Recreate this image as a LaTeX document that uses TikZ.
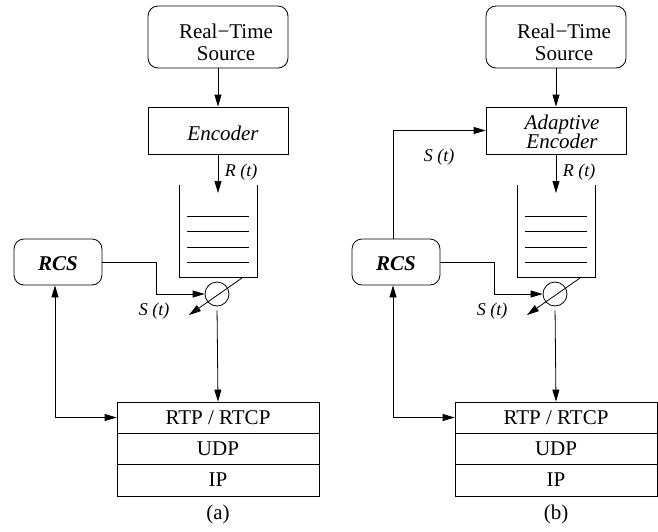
\documentclass[tikz,border=0pt]{standalone}
\usepackage{fontspec}
\setmainfont{Liberation Serif}
\usetikzlibrary{arrows.meta}
\begin{document}
\begin{tikzpicture}[x=1pt,y=-1pt,
  every node/.style={font=\fontsize{21}{22}\selectfont},
  rbox/.style={draw,rounded corners=10pt,line width=0.8pt,inner sep=0pt},
  sbox/.style={draw,line width=0.8pt,inner sep=0pt,minimum width=140,minimum height=47},
  layer/.style={draw,line width=0.8pt,inner sep=0pt,minimum width=202,minimum height=31},
  arr/.style={line width=0.8pt,-{Triangle[length=12pt,width=7pt]}},
  darr/.style={line width=0.8pt,{Triangle[length=12pt,width=7pt]}-{Triangle[length=12pt,width=7pt]}},
  lbl/.style={font=\fontsize{18}{20}\selectfont\itshape,inner sep=0pt},
  ln/.style={line width=0.8pt}]
\useasboundingbox (0,0) rectangle (658,531);

% ---------------- panel (a) ----------------
\node[rbox,minimum width=140,minimum height=62] (srcA) at (218,37) {};
\node[align=center,inner sep=0pt] (srcAt) at (226,42) {Real−Time\\Source};
\node[sbox] (encA) at (218,130.5) {};
\node[inner sep=0pt,font=\fontsize{21}{22}\selectfont\itshape] (encAt) at (223,133) {Encoder};
\node[minimum width=77,minimum height=92,inner sep=0pt] (bufA) at (218.5,231) {};
\draw[ln] (bufA.north west) -- (bufA.south west) -- (bufA.south east) -- (bufA.north east);
\foreach \yy in {216,231,247,262} \draw[line width=0.7pt] (187,\yy) -- (249,\yy);
\coordinate (bufAin) at (218,193);
\node[draw,circle,line width=0.8pt,minimum size=24,inner sep=0pt] (cirA) at (217,294) {};
\node[rbox,minimum width=88,minimum height=46] (rcsA) at (58,262) {};
\node[font=\fontsize{21}{22}\selectfont\bfseries\itshape,inner sep=0pt] (rcsAt) at (58,264) {RCS};
\node[layer] (rtpA) at (218,417.5) {RTP / RTCP};
\node[layer] (udpA) at (218,448.5) {UDP};
\node[layer,minimum height=32] (ipA) at (218,480) {IP};
\node[inner sep=0pt] (capA) at (218,514) {(a)};
\coordinate (diagAs) at (242,278);
\coordinate (diagAe) at (189,315);
\coordinate (rcsAturn) at (156,262);
\node[lbl] (RtA) at (241,172) {R (t)};
\node[lbl] (StA) at (154,311) {S (t)};

\draw[arr] (srcA.south) -- (encA.north);
\draw[arr] (encA.south) -- (bufAin);
\draw[arr] (rcsA.east) -- (rcsAturn) |- (cirA.west);
\draw[arr] (diagAs) -- (diagAe);
\draw[arr,shorten <=4pt] (cirA.south) -- (rtpA.north);
\draw[darr] ([xshift=-3pt]rcsA.south) |- (rtpA.west);

% ---------------- panel (b) ----------------
\begin{scope}[xshift=338pt]
\node[rbox,minimum width=140,minimum height=62] (srcB) at (218,37) {};
\node[align=center,inner sep=0pt] (srcBt) at (226,42) {Real−Time\\Source};
\node[sbox] (encB) at (218,130.5) {};
\node[align=center,inner sep=0pt,font=\fontsize{21}{22}\selectfont\itshape] (encBt) at (224,132) {Adaptive\\[-3pt]Encoder};
\node[minimum width=77,minimum height=92,inner sep=0pt] (bufB) at (218.5,231) {};
\draw[ln] (bufB.north west) -- (bufB.south west) -- (bufB.south east) -- (bufB.north east);
\foreach \yy in {216,231,247,262} \draw[line width=0.7pt] (187,\yy) -- (249,\yy);
\coordinate (bufBin) at (218,193);
\node[draw,circle,line width=0.8pt,minimum size=24,inner sep=0pt] (cirB) at (217,294) {};
\node[rbox,minimum width=88,minimum height=46] (rcsB) at (58,262) {};
\node[font=\fontsize{21}{22}\selectfont\bfseries\itshape,inner sep=0pt] (rcsBt) at (58,264) {RCS};
\node[layer] (rtpB) at (218,417.5) {RTP / RTCP};
\node[layer] (udpB) at (218,448.5) {UDP};
\node[layer,minimum height=32] (ipB) at (218,480) {IP};
\node[inner sep=0pt] (capB) at (218,514) {(b)};
\coordinate (diagBs) at (242,278);
\coordinate (diagBe) at (189,315);
\coordinate (rcsBturn) at (156,262);
\node[lbl] (RtB) at (241,172) {R (t)};
\node[lbl] (StB) at (154,311) {S (t)};
\node[lbl] (StB2) at (101,157) {S (t)};

\draw[arr] (srcB.south) -- (encB.north);
\draw[arr] (encB.south) -- (bufBin);
\draw[arr] (rcsB.east) -- (rcsBturn) |- (cirB.west);
\draw[arr] (diagBs) -- (diagBe);
\draw[arr,shorten <=4pt] (cirB.south) -- (rtpB.north);
\draw[darr] ([xshift=-3pt]rcsB.south) |- (rtpB.west);
\draw[arr] ([xshift=-3pt]rcsB.north) |- (encB.west);
\end{scope}
\end{tikzpicture}
\end{document}
